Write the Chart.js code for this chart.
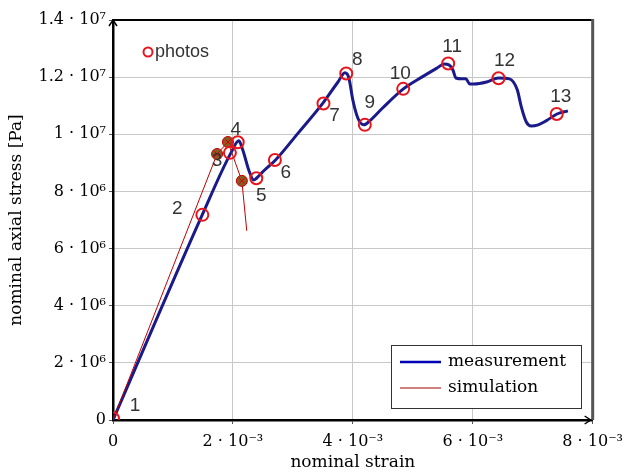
<!DOCTYPE html>
<html>
<head>
<meta charset="utf-8">
<script src="https://cdn.jsdelivr.net/npm/chart.js@4.4.0/dist/chart.umd.min.js"></script>
<style>
  body { margin: 0; background: #fff; }
  #wrap { width: 631px; height: 474px; position: relative; }
</style>
</head>
<body>
<div id="wrap"><canvas id="myChart"></canvas></div>
<script>
// measured curve (strain, stress in Pa)
const measStrain = [0, 1.488e-3, 1.967e-3, 2.099e-3, 2.165e-3, 2.264e-3, 2.347e-3, 2.397e-3, 2.529e-3, 2.711e-3,
    3.091e-3, 3.504e-3, 3.752e-3, 3.868e-3, 3.934e-3, 4.000e-3, 4.083e-3, 4.182e-3, 4.281e-3, 4.496e-3,
    4.843e-3, 5.157e-3, 5.405e-3, 5.521e-3, 5.603e-3, 5.669e-3, 5.719e-3, 5.818e-3, 5.884e-3, 5.950e-3,
    6.017e-3, 6.231e-3, 6.430e-3, 6.612e-3, 6.678e-3, 6.744e-3, 6.810e-3, 6.893e-3, 6.975e-3, 7.091e-3,
    7.223e-3, 7.405e-3, 7.587e-3];
const measStress = [0, 7.18e6, 9.35e6, 9.77e6, 9.45e6, 8.75e6, 8.40e6, 8.47e6, 8.75e6, 9.10e6,
    10.05e6, 11.10e6, 11.83e6, 12.15e6, 11.97e6, 11.20e6, 10.57e6, 10.33e6, 10.47e6, 10.92e6,
    11.59e6, 12.01e6, 12.32e6, 12.46e6, 12.43e6, 12.25e6, 11.97e6, 11.94e6, 11.94e6, 11.76e6,
    11.76e6, 11.83e6, 11.97e6, 11.94e6, 11.83e6, 11.55e6, 10.96e6, 10.43e6, 10.29e6, 10.33e6,
    10.47e6, 10.71e6, 10.82e6];

// simulation
const simStrain = [0, 1.736e-3, 1.917e-3, 2.149e-3, 2.231e-3];
const simStress = [0, 9.31e6, 9.73e6, 8.37e6, 6.62e6];
const simMarked = [false, true, true, true, false];

// photo points
const photoNames = ["1", "2", "3", "4", "5", "6", "7", "8", "9", "10", "11", "12", "13"];
const photoStrain = [0, 1.49e-3, 1.95e-3, 2.08e-3, 2.39e-3, 2.70e-3, 3.51e-3, 3.89e-3, 4.20e-3, 4.84e-3, 5.59e-3, 6.43e-3, 7.40e-3];
const photoStress = [0.05e6, 7.18e6, 9.35e6, 9.72e6, 8.46e6, 9.10e6, 11.08e6, 12.13e6, 10.33e6, 11.59e6, 12.48e6, 11.96e6, 10.71e6];

const xTicks = [0, 2e-3, 4e-3, 6e-3, 8e-3];
const xTickLabels = ["0", "2 · 10⁻³", "4 · 10⁻³", "6 · 10⁻³", "8 · 10⁻³"];
const yTicks = [0, 2e6, 4e6, 6e6, 8e6, 10e6, 12e6, 14e6];
const yTickLabels = ["0", "2 · 10⁶", "4 · 10⁶", "6 · 10⁶", "8 · 10⁶", "1 · 10⁷", "1.2 · 10⁷", "1.4 · 10⁷"];

// label offsets from each photo circle (px)
const labelOffsets = [[22, -13], [-25, -6], [-13, 8], [-2, -13], [5, 17], [11, 13], [11, 12],
    [11, -14], [5, -22], [-3, -15], [4, -17], [6, -18], [4, -17]];

const serif = "'DejaVu Serif', serif";
const pts = (xs, ys) => xs.map((x, i) => ({ x: x, y: ys[i] }));

const decorations = {
    id: 'decorations',
    afterDatasetsDraw(chart) {
        const c = chart.ctx;
        const a = chart.chartArea;
        c.save();
        // photo numbers
        const meta = chart.getDatasetMeta(0);
        c.fillStyle = '#333';
        c.font = "19px 'Liberation Sans', Arial, sans-serif";
        c.textAlign = 'center';
        c.textBaseline = 'middle';
        meta.data.forEach((p, i) => {
            c.fillText(photoNames[i], p.x + labelOffsets[i][0], p.y + labelOffsets[i][1]);
        });
        // "photos" key from the photo
        c.strokeStyle = '#e8141c';
        c.lineWidth = 2;
        c.beginPath();
        c.arc(148, 52, 4.5, 0, Math.PI * 2);
        c.stroke();
        c.textAlign = 'left';
        c.fillStyle = '#333';
        c.font = "18px 'Liberation Sans', Arial, sans-serif";
        c.fillText('photos', 155, 52);
        // frame top and right
        c.strokeStyle = '#000';
        c.lineWidth = 2;
        c.beginPath();
        c.moveTo(a.left, a.top);
        c.lineTo(a.right + 1, a.top);
        c.stroke();
        c.strokeStyle = '#555';
        c.lineWidth = 3;
        c.beginPath();
        c.moveTo(a.right, a.top - 1);
        c.lineTo(a.right, a.bottom);
        c.stroke();
        // axis arrows
        c.strokeStyle = '#000';
        c.lineWidth = 1.5;
        c.beginPath();
        c.moveTo(a.left - 4, a.top + 6);
        c.lineTo(a.left, a.top);
        c.lineTo(a.left + 4, a.top + 6);
        c.moveTo(a.right - 8, a.bottom - 4);
        c.lineTo(a.right - 2, a.bottom);
        c.lineTo(a.right - 8, a.bottom + 4);
        c.stroke();
        // legend
        const lx = 391, ly = 345, lw = 190, lh = 63;
        c.fillStyle = '#fff';
        c.fillRect(lx, ly, lw, lh);
        c.strokeStyle = '#333';
        c.lineWidth = 1;
        c.strokeRect(lx + 0.5, ly + 0.5, lw, lh);
        const items = [
            { ds: chart.data.datasets[3], w: 2.5, y: ly + 17 },
            { ds: chart.data.datasets[2], w: 1, y: ly + 43 }
        ];
        c.font = '17px ' + serif;
        items.forEach(it => {
            c.strokeStyle = it.ds.legendColor;
            c.lineWidth = it.w;
            c.beginPath();
            c.moveTo(lx + 9, it.y);
            c.lineTo(lx + 50, it.y);
            c.stroke();
            c.fillStyle = '#000';
            c.fillText(it.ds.label, lx + 57, it.y);
        });
        c.restore();
    }
};

new Chart(document.getElementById('myChart'), {
    type: 'scatter',
    data: {
        datasets: [
            {
                label: 'photos',
                data: pts(photoStrain, photoStress),
                showLine: false,
                pointRadius: 6,
                pointBorderWidth: 2,
                pointBorderColor: '#e8141c',
                pointBackgroundColor: 'rgba(0,0,0,0)',
                order: 0
            },
            {
                label: 'sim-cross',
                data: pts(simStrain, simStress),
                showLine: false,
                pointStyle: 'crossRot',
                pointRadius: simMarked.map(m => m ? 4 : 0),
                pointBorderWidth: 1,
                pointBorderColor: '#d00000',
                order: 1
            },
            {
                label: 'simulation',
                data: pts(simStrain, simStress),
                showLine: true,
                borderColor: '#c00000',
                legendColor: '#a00000',
                borderWidth: 1,
                pointRadius: simMarked.map(m => m ? 5.5 : 0),
                pointBorderWidth: 1,
                pointBorderColor: '#c00000',
                pointBackgroundColor: '#8b5a22',
                order: 2
            },
            {
                label: 'measurement',
                data: pts(measStrain, measStress),
                showLine: true,
                borderColor: '#1a1a8a',
                legendColor: '#0000b4',
                borderWidth: 3,
                pointRadius: 0,
                cubicInterpolationMode: 'monotone',
                order: 3
            }
        ]
    },
    options: {
        responsive: true,
        maintainAspectRatio: false,
        animation: false,
        layout: { padding: { top: 20, right: 34, left: 0, bottom: 0 } },
        plugins: {
            legend: { display: false },
            tooltip: { enabled: false }
        },
        scales: {
            x: {
                type: 'linear',
                min: 0,
                max: 8e-3,
                afterFit: s => { s.height = 54; },
                afterBuildTicks: s => { s.ticks = xTicks.map(v => ({ value: v })); },
                ticks: {
                    color: '#000',
                    padding: 8,
                    maxRotation: 0,
                    font: { family: serif, size: 16 },
                    callback: (v, i) => xTickLabels[i]
                },
                grid: { color: '#c8c8c8', lineWidth: 1, tickLength: 4, tickColor: '#555' },
                border: { color: '#000', width: 2.5 },
                title: {
                    display: true,
                    text: 'nominal strain',
                    color: '#000',
                    font: { family: serif, size: 17 },
                    padding: { top: 0, bottom: 1 }
                }
            },
            y: {
                type: 'linear',
                min: 0,
                max: 1.4e7,
                afterFit: s => { s.width = 113; },
                afterBuildTicks: s => { s.ticks = yTicks.map(v => ({ value: v })); },
                ticks: {
                    color: '#000',
                    padding: 3,
                    font: { family: serif, size: 16 },
                    callback: (v, i) => yTickLabels[i]
                },
                grid: { color: '#c8c8c8', lineWidth: 1, tickLength: 4, tickColor: '#555' },
                border: { color: '#000', width: 2.5 },
                title: {
                    display: true,
                    text: 'nominal axial stress [Pa]',
                    color: '#000',
                    font: { family: serif, size: 17 },
                    padding: { top: 6, bottom: 0 }
                }
            }
        }
    },
    plugins: [decorations]
});
</script>
</body>
</html>
